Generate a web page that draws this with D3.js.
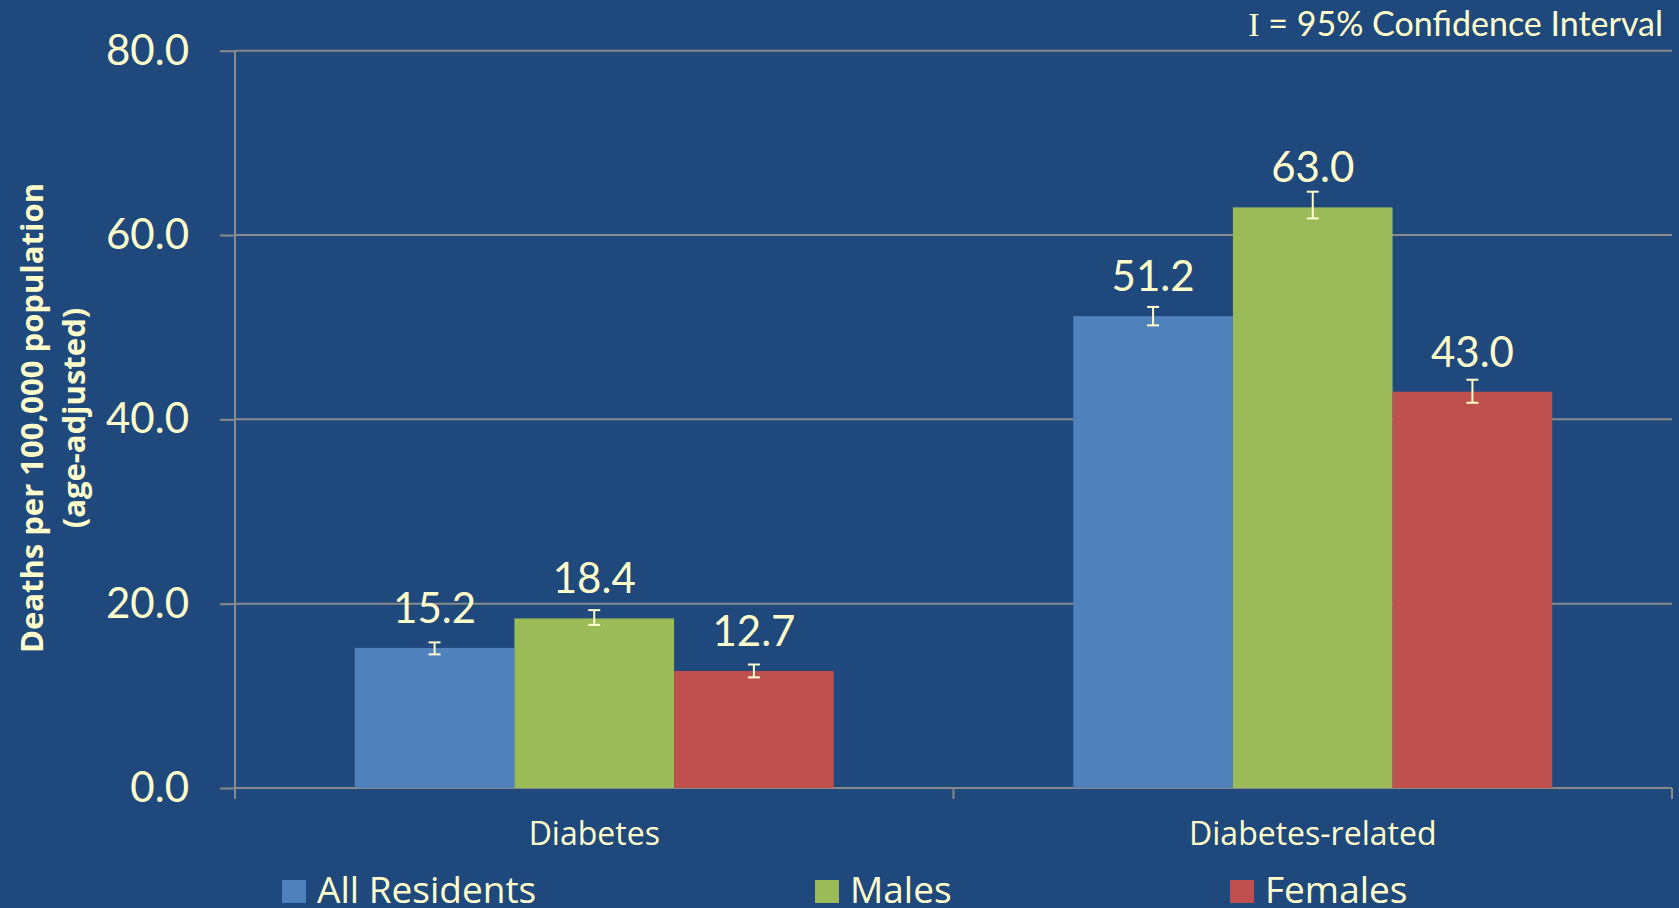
<!DOCTYPE html>
<html>
<head>
<meta charset="utf-8">
<script src="https://cdn.jsdelivr.net/npm/d3@7"></script>
<style>
  body { margin: 0; background: #1F497D; }
  svg { display: block; }
  text { font-family: Lato, "Open Sans", sans-serif; fill: #FFFFCC; }
</style>
</head>
<body>
<div class="g-chart-container"></div>
<script>
// data
var categories = ["Diabetes", "Diabetes-related"];
var seriesNames = ["All Residents", "Males", "Females"];
var allResidents = [15.2, 51.2];
var males = [18.4, 63.0];
var females = [12.7, 43.0];
// 95% CI
var allResidentsLow = [14.5, 50.2], allResidentsHigh = [15.8, 52.2];
var malesLow = [17.7, 61.8], malesHigh = [19.3, 64.7];
var femalesLow = [12.0, 41.8], femalesHigh = [13.4, 44.3];
var yTicks = [0, 20, 40, 60, 80];

var colors = ["#4F81BD", "#9BBB59", "#C0504D"];
var gridColor = "#8a8a8a";
var textColor = "#FFFFCC";

var width = 1679;
var height = 908;
var plot = { left: 235, right: 1672, top: 50.7, bottom: 788 };

var svg = d3.select(".g-chart-container")
  .append("svg")
  .attr("width", width)
  .attr("height", height);

svg.append("rect")
  .attr("width", width)
  .attr("height", height)
  .attr("fill", "#1F497D");

// scales
var y = d3.scaleLinear().domain([0, 80]).range([plot.bottom, plot.top]);
var x0 = d3.scaleBand()
  .domain(categories)
  .range([plot.left, plot.right])
  .paddingInner(1 / 3)
  .paddingOuter(1 / 6);
var x1 = d3.scaleBand()
  .domain(seriesNames)
  .range([0, x0.bandwidth()]);

// build rows for the join
var values = [allResidents, males, females];
var lows = [allResidentsLow, malesLow, femalesLow];
var highs = [allResidentsHigh, malesHigh, femalesHigh];
var rows = [];
categories.forEach(function(c, i) {
  seriesNames.forEach(function(s, j) {
    rows.push({ cat: c, series: s, value: values[j][i], lo: lows[j][i], hi: highs[j][i], color: colors[j] });
  });
});

// gridlines
svg.append("g")
  .selectAll("line")
  .data(yTicks)
  .enter()
  .append("line")
  .attr("x1", plot.left)
  .attr("x2", plot.right)
  .attr("y1", function(d) { return y(d); })
  .attr("y2", function(d) { return y(d); })
  .attr("stroke", gridColor)
  .attr("stroke-width", 2);

// y axis
var yAxis = svg.append("g")
  .attr("transform", "translate(" + plot.left + ",0)")
  .call(d3.axisLeft(y).tickValues(yTicks).tickSize(15).tickPadding(31).tickFormat(d3.format(".1f")));
yAxis.select(".domain").remove();
yAxis.selectAll(".tick line").attr("stroke", gridColor).attr("stroke-width", 2);
yAxis.selectAll(".tick text")
  .attr("fill", textColor)
  .style("font-family", "Lato, sans-serif")
  .style("font-size", "42px");
svg.append("line")
  .attr("x1", plot.left).attr("x2", plot.left)
  .attr("y1", plot.top).attr("y2", plot.bottom + 11)
  .attr("stroke", gridColor)
  .attr("stroke-width", 2);

// x axis ticks at band boundaries
var xTickPos = [plot.left].concat(categories.map(function(c) {
  return x0(c) + x0.bandwidth() + x0.step() * (1 / 6);
}));
svg.append("g")
  .selectAll("line")
  .data(xTickPos)
  .enter()
  .append("line")
  .attr("x1", function(d) { return d; })
  .attr("x2", function(d) { return d; })
  .attr("y1", plot.bottom)
  .attr("y2", plot.bottom + 11)
  .attr("stroke", gridColor)
  .attr("stroke-width", 2);

svg.append("g")
  .selectAll("text")
  .data(categories)
  .enter()
  .append("text")
  .attr("x", function(d) { return x0(d) + x0.bandwidth() / 2; })
  .attr("y", 845)
  .attr("text-anchor", "middle")
  .style("font-family", "'Open Sans', sans-serif")
  .style("font-size", "32px")
  .text(function(d) { return d; });

// bars
var bars = svg.append("g");
bars.selectAll("rect")
  .data(rows)
  .enter()
  .append("rect")
  .attr("x", function(d) { return x0(d.cat) + x1(d.series); })
  .attr("y", function(d) { return y(d.value); })
  .attr("width", x1.bandwidth())
  .attr("height", function(d) { return y(0) - y(d.value); })
  .attr("fill", function(d) { return d.color; });

// error bars
var err = svg.append("g")
  .attr("stroke", textColor)
  .attr("stroke-width", 2)
  .selectAll("g")
  .data(rows)
  .enter()
  .append("g")
  .attr("transform", function(d) {
    return "translate(" + (x0(d.cat) + x1(d.series) + x1.bandwidth() / 2) + ",0)";
  });
err.append("line")
  .attr("y1", function(d) { return y(d.lo); })
  .attr("y2", function(d) { return y(d.hi); });
err.append("line")
  .attr("x1", -6).attr("x2", 6)
  .attr("y1", function(d) { return y(d.lo); })
  .attr("y2", function(d) { return y(d.lo); });
err.append("line")
  .attr("x1", -6).attr("x2", 6)
  .attr("y1", function(d) { return y(d.hi); })
  .attr("y2", function(d) { return y(d.hi); });

// value labels
svg.append("g")
  .selectAll("text")
  .data(rows)
  .enter()
  .append("text")
  .attr("x", function(d) { return x0(d.cat) + x1(d.series) + x1.bandwidth() / 2; })
  .attr("y", function(d) { return y(d.value) - 25; })
  .attr("text-anchor", "middle")
  .style("font-size", "42px")
  .text(function(d) { return d3.format(".1f")(d.value); });

// y axis title
var yTitle = svg.append("text")
  .attr("transform", "translate(43,418) rotate(-90)")
  .attr("text-anchor", "middle")
  .style("font-family", "'Open Sans', sans-serif")
  .style("font-size", "31px")
  .style("font-weight", "bold");
yTitle.append("tspan")
  .attr("x", 0).attr("y", 0)
  .text("Deaths per 100,000 population");
yTitle.append("tspan")
  .attr("x", 0).attr("y", 42)
  .text("(age-adjusted)");

// CI note
var note = svg.append("text")
  .attr("x", 1663)
  .attr("y", 36)
  .attr("text-anchor", "end")
  .style("font-size", "34px");
note.append("tspan")
  .style("font-family", "'Liberation Serif', serif")
  .text("I");
note.append("tspan").text(" = 95% Confidence Interval");

// legend
var legendX = [282, 815, 1230];
var legend = svg.append("g")
  .selectAll("g")
  .data(seriesNames)
  .enter()
  .append("g")
  .attr("transform", function(d, i) { return "translate(" + legendX[i] + ",880)"; });
legend.append("rect")
  .attr("width", 24)
  .attr("height", 23)
  .attr("fill", function(d, i) { return colors[i]; });
legend.append("text")
  .attr("x", 35)
  .attr("y", 23)
  .style("font-family", "'Open Sans', sans-serif")
  .style("font-size", "37px")
  .text(function(d) { return d; });
</script>
</body>
</html>
